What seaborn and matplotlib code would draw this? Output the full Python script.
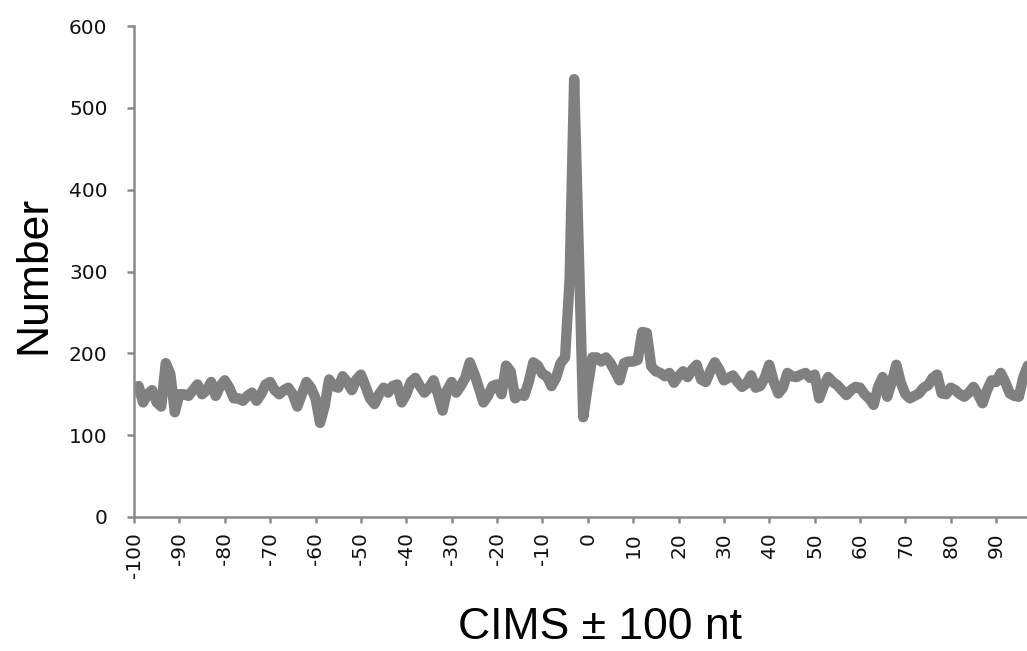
import numpy as np
import pandas as pd
import seaborn as sns
import matplotlib
matplotlib.use("Agg")
import matplotlib.pyplot as plt

# Read counts at each offset from the CIMS site (-100 .. 97 nt)
positions = list(range(-100, 98))
counts = [
    155, 160, 140, 150, 155, 140, 135, 188, 175, 128,   # -100 .. -91
    150, 150, 148, 155, 162, 150, 155, 165, 148, 160,   # -90 .. -81
    167, 158, 145, 145, 142, 148, 152, 142, 150, 162,   # -80 .. -71
    165, 155, 150, 155, 158, 150, 135, 150, 165, 158,   # -70 .. -61
    145, 115, 135, 168, 160, 158, 172, 165, 155, 168,   # -60 .. -51
    174, 160, 145, 138, 150, 158, 152, 160, 162, 140,   # -50 .. -41
    150, 165, 170, 160, 152, 158, 167, 150, 130, 155,   # -40 .. -31
    165, 152, 160, 170, 189, 175, 158, 140, 148, 160,   # -30 .. -21
    162, 150, 185, 178, 145, 150, 148, 165, 189, 185,   # -20 .. -11
    175, 172, 160, 170, 188, 195, 290, 535, 330, 122,   # -10 .. -1
    160, 195, 195, 190, 195, 188, 178, 167, 188, 190,   # 0 .. 9
    190, 192, 226, 225, 184, 178, 176, 172, 176, 164,   # 10 .. 19
    172, 178, 171, 180, 186, 168, 165, 178, 189, 180,   # 20 .. 29
    167, 170, 173, 165, 159, 163, 173, 158, 160, 170,   # 30 .. 39
    186, 165, 151, 158, 176, 172, 171, 174, 176, 170,   # 40 .. 49
    174, 145, 160, 171, 165, 161, 155, 149, 155, 159,   # 50 .. 59
    158, 150, 145, 137, 159, 171, 147, 165, 186, 164,   # 60 .. 69
    150, 145, 148, 151, 158, 161, 170, 174, 151, 150,   # 70 .. 79
    158, 155, 150, 147, 152, 159, 150, 139, 155, 167,   # 80 .. 89
    165, 176, 165, 151, 148, 147, 171, 185,             # 90 .. 97
]
x_ticks = list(range(-100, 100, 10))
y_ticks = [0, 100, 200, 300, 400, 500, 600]

df = pd.DataFrame({"pos": positions, "count": counts})

sns.set_style("white")
plt.rcParams["font.family"] = ["DejaVu Sans"]

fig = plt.figure(figsize=(10.27, 6.51), dpi=100)
ax = fig.add_axes([134 / 1027, 1 - 517 / 651, 1 - 134 / 1027, (517 - 26) / 651])

sns.lineplot(data=df, x="pos", y="count", ax=ax, color="#808080",
             linewidth=7.5, solid_joinstyle="round", solid_capstyle="round")

ax.set_xlim(-100, 96.8)
ax.set_ylim(0, 600)
ax.set_xticks(x_ticks)
ax.set_xticklabels([str(t) for t in x_ticks], rotation=90, fontsize=14.5, color="#111111")
ax.set_yticks(y_ticks)
ax.set_yticklabels([str(t) for t in y_ticks], fontsize=14.5, color="#111111")

spine_col = "#8a8a8a"
for side in ("top", "right"):
    ax.spines[side].set_visible(False)
for side in ("left", "bottom"):
    ax.spines[side].set_color(spine_col)
    ax.spines[side].set_linewidth(1.8)
ax.tick_params(axis="x", direction="out", length=4, width=1.8, color=spine_col, pad=7, bottom=True)
ax.tick_params(axis="y", direction="out", length=5, width=1.8, color=spine_col, pad=14, left=True)

label_font = dict(family="Liberation Sans", size=32, color="black")
ax.set_xlabel("CIMS ± 100 nt", **label_font)
ax.set_ylabel("Number", **label_font)
ax.xaxis.set_label_coords(0.522, -0.183)
ax.yaxis.set_label_coords(-0.089, 0.493)
ax.grid(False)

fig.savefig("out.png", dpi=100)
